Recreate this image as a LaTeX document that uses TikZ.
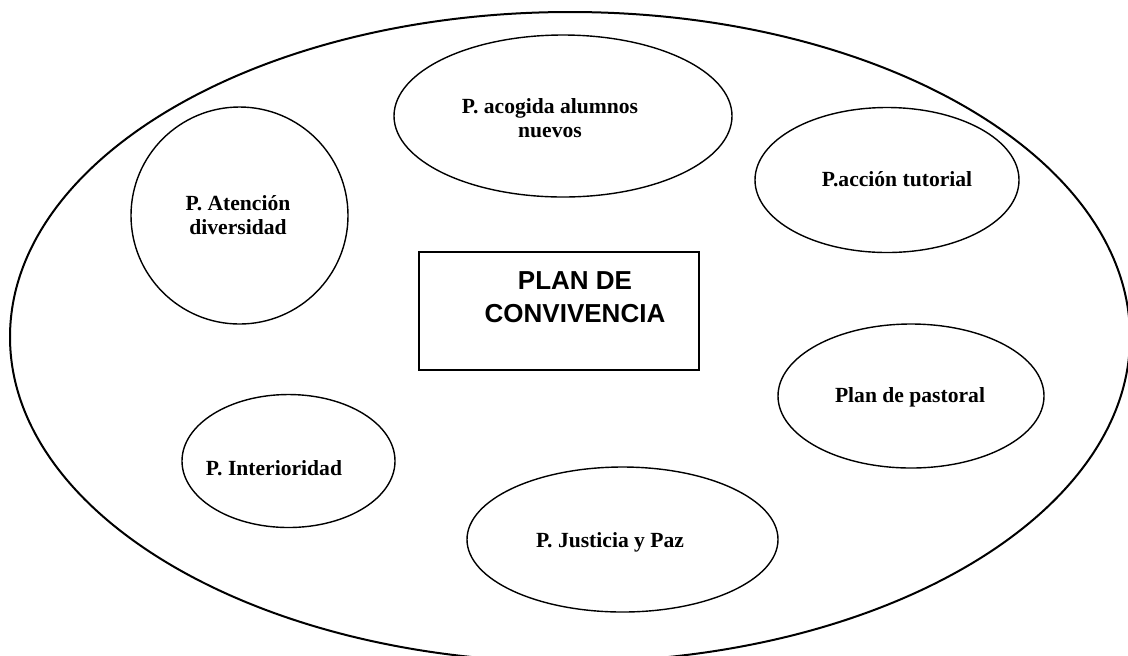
\documentclass[tikz,border=0pt]{standalone}
\usepackage{fontspec}
\setmainfont{Liberation Serif}
\newfontfamily\titulofont{Liberation Sans}
\usetikzlibrary{shapes.geometric}

\tikzset{
  plano/.style={draw,ellipse,line width=0.7pt,inner sep=0pt},
  rotulo/.style={font=\bfseries\fontsize{10.8}{12.3}\selectfont,align=center,inner sep=0pt},
}

\begin{document}
\begin{tikzpicture}[x=0.5pt,y=-0.5pt]
  \useasboundingbox (0,0) rectangle (1128,655);

  % marco exterior
  \node[draw,ellipse,line width=1pt,minimum width=560pt,minimum height=325pt] (marco) at (570,337) {};

  % planes
  \node[plano,minimum width=108.5pt,minimum height=108.5pt] (atencion) at (239.5,215.5) {};
  \node[plano,minimum width=169pt,minimum height=81pt] (acogida) at (563,116) {};
  \node[plano,minimum width=132pt,minimum height=72.5pt] (tutorial) at (887,180) {};
  \node[plano,minimum width=133pt,minimum height=72pt] (pastoral) at (911,396) {};
  \node[plano,minimum width=106.5pt,minimum height=66.5pt] (interioridad) at (288.5,461) {};
  \node[plano,minimum width=155.5pt,minimum height=72.5pt] (justicia) at (622.5,539.5) {};

  \node[rotulo] (atencion-t) at (238,215) {P. Atención\\diversidad};
  \node[rotulo] (acogida-t) at (550,118) {P. acogida alumnos\\nuevos};
  \node[rotulo] (tutorial-t) at (897,179) {P.acción tutorial};
  \node[rotulo] (pastoral-t) at (910,397) {Plan de pastoral};
  \node[rotulo] (interioridad-t) at (274,468) {P. Interioridad};
  \node[rotulo] (justicia-t) at (610,542) {P. Justicia y Paz};

  % plan central
  \node[draw,line width=0.8pt,minimum width=140pt,minimum height=59pt] (plan) at (559,311) {};
  \node[font=\titulofont\bfseries\fontsize{13}{16.5}\selectfont,align=center,inner sep=0pt] (plan-t) at (575,297) {PLAN DE\\CONVIVENCIA};
\end{tikzpicture}
\end{document}
